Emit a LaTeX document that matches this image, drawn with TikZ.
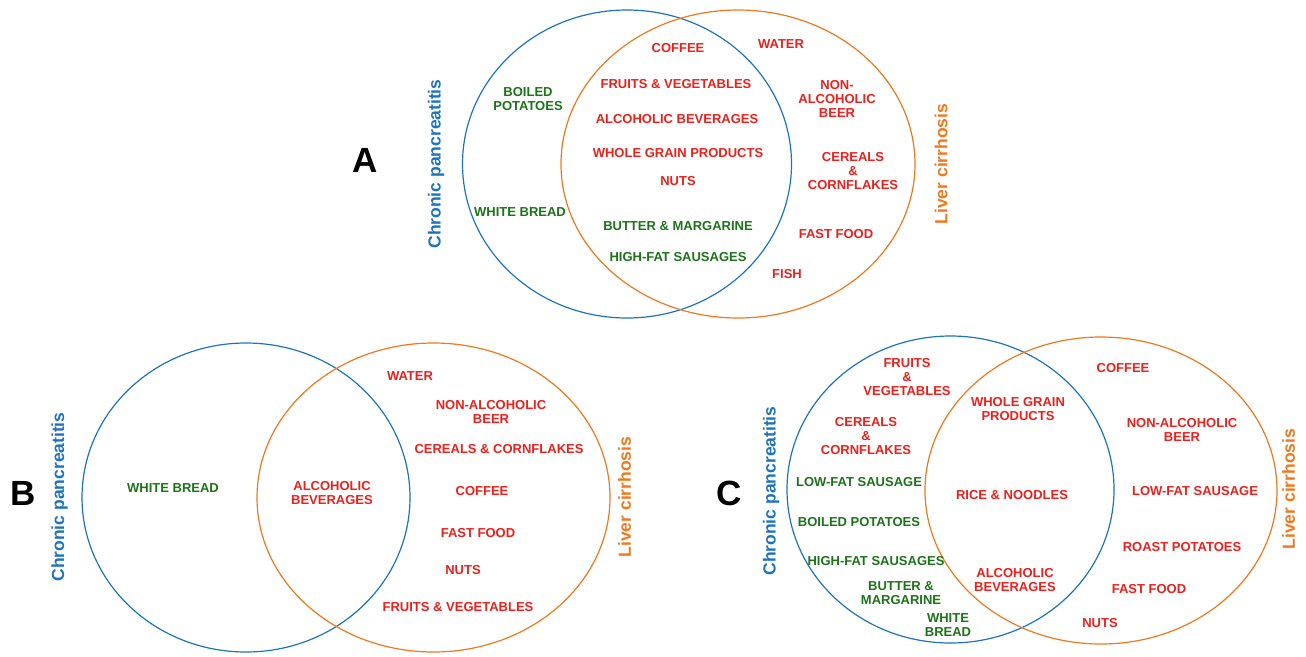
\documentclass[tikz,border=0pt]{standalone}
\usepackage{fontspec}
\setmainfont{Liberation Sans}
\usetikzlibrary{shapes.geometric}
\definecolor{cpblue}{RGB}{30,115,190}
\definecolor{lcorange}{RGB}{240,120,30}
\definecolor{itemred}{RGB}{236,32,28}
\definecolor{itemgreen}{RGB}{28,115,25}
\tikzset{
  venn/.style={ellipse, draw, line width=1.2pt, inner sep=0pt},
  cpset/.style={venn, draw=cpblue},
  lcset/.style={venn, draw=lcorange},
  item/.style={font=\fontsize{13}{14}\selectfont\bfseries, inner sep=0pt, align=center},
  ri/.style={item, text=itemred},
  gi/.style={item, text=itemgreen},
  panel/.style={font=\fontsize{35}{40}\selectfont\bfseries, inner sep=0pt},
  cplab/.style={font=\fontsize{17.5}{20}\selectfont\bfseries, text=cpblue, rotate=90, inner sep=0pt},
  lclab/.style={font=\fontsize{17.5}{20}\selectfont\bfseries, text=lcorange, rotate=90, inner sep=0pt}
}
\begin{document}
\begin{tikzpicture}[x=1pt,y=-1pt]
\useasboundingbox (0,0) rectangle (1306,656);
% ---------------- Panel A
\node[cpset, minimum width=329pt, minimum height=308pt] (Acp) at (627,164) {};
\node[lcset, minimum width=354pt, minimum height=308pt] (Alc) at (738,164) {};
\node[panel] (Alab) at (365,160) {A};
\node[cplab] (Acpl) at (436,164) {Chronic pancreatitis};
\node[lclab] (Alcl) at (941,164) {Liver cirrhosis};
\node[gi] (A1) at (528,99) {BOILED\\POTATOES};
\node[gi] (A2) at (520,212) {WHITE BREAD};
\node[ri] (A3) at (678,48) {COFFEE};
\node[ri] (A4) at (676,84) {FRUITS \& VEGETABLES};
\node[ri] (A5) at (677,119) {ALCOHOLIC BEVERAGES};
\node[ri] (A6) at (678,153) {WHOLE GRAIN PRODUCTS};
\node[ri] (A7) at (678,181) {NUTS};
\node[gi] (A8) at (678,226) {BUTTER \& MARGARINE};
\node[gi] (A9) at (678,257) {HIGH-FAT SAUSAGES};
\node[ri] (A10) at (781,44) {WATER};
\node[ri] (A11) at (837,99) {NON-\\ALCOHOLIC\\BEER};
\node[ri] (A12) at (853,171) {CEREALS\\\&\\CORNFLAKES};
\node[ri] (A13) at (836,234) {FAST FOOD};
\node[ri] (A14) at (787,274) {FISH};
% ---------------- Panel B
\node[cpset, minimum width=328pt, minimum height=309pt] (Bcp) at (246,497.5) {};
\node[lcset, minimum width=353pt, minimum height=309pt] (Blc) at (433.5,497.5) {};
\node[panel] (Blab) at (23,493) {B};
\node[cplab] (Bcpl) at (59.5,497) {Chronic pancreatitis};
\node[lclab] (Blcl) at (624.5,497) {Liver cirrhosis};
\node[gi] (B1) at (173,488) {WHITE BREAD};
\node[ri] (B2) at (332,493.5) {ALCOHOLIC\\BEVERAGES};
\node[ri] (B3) at (410,376) {WATER};
\node[ri] (B4) at (491,411.5) {NON-ALCOHOLIC\\BEER};
\node[ri] (B5) at (499,449) {CEREALS \& CORNFLAKES};
\node[ri] (B6) at (482,491) {COFFEE};
\node[ri] (B7) at (478,533) {FAST FOOD};
\node[ri] (B8) at (463,570) {NUTS};
\node[ri] (B9) at (458,607) {FRUITS \& VEGETABLES};
% ---------------- Panel C
\node[cpset, minimum width=327pt, minimum height=307pt] (Ccp) at (950.5,489.5) {};
\node[lcset, minimum width=352pt, minimum height=307pt] (Clc) at (1101,490.5) {};
\node[panel] (Clab) at (729,493) {C};
\node[cplab] (Ccpl) at (771,491) {Chronic pancreatitis};
\node[lclab] (Clcl) at (1288.5,489) {Liver cirrhosis};
\node[ri] (C1) at (907,377.5) {FRUITS\\\&\\VEGETABLES};
\node[ri] (C2) at (866,436) {CEREALS\\\&\\CORNFLAKES};
\node[gi] (C3) at (859,482) {LOW-FAT SAUSAGE};
\node[gi] (C4) at (859,522) {BOILED POTATOES};
\node[gi] (C5) at (876,561) {HIGH-FAT SAUSAGES};
\node[gi] (C6) at (901,593.5) {BUTTER \&\\MARGARINE};
\node[gi] (C7) at (948,625) {WHITE\\BREAD};
\node[ri] (C8) at (1018,409) {WHOLE GRAIN\\PRODUCTS};
\node[ri] (C9) at (1012,495) {RICE \& NOODLES};
\node[ri] (C10) at (1015,580.5) {ALCOHOLIC\\BEVERAGES};
\node[ri] (C11) at (1123,368) {COFFEE};
\node[ri] (C12) at (1182,429.5) {NON-ALCOHOLIC\\BEER};
\node[ri] (C13) at (1195,491) {LOW-FAT SAUSAGE};
\node[ri] (C14) at (1182,547) {ROAST POTATOES};
\node[ri] (C15) at (1149,589) {FAST FOOD};
\node[ri] (C16) at (1100,623) {NUTS};
\end{tikzpicture}
\end{document}
